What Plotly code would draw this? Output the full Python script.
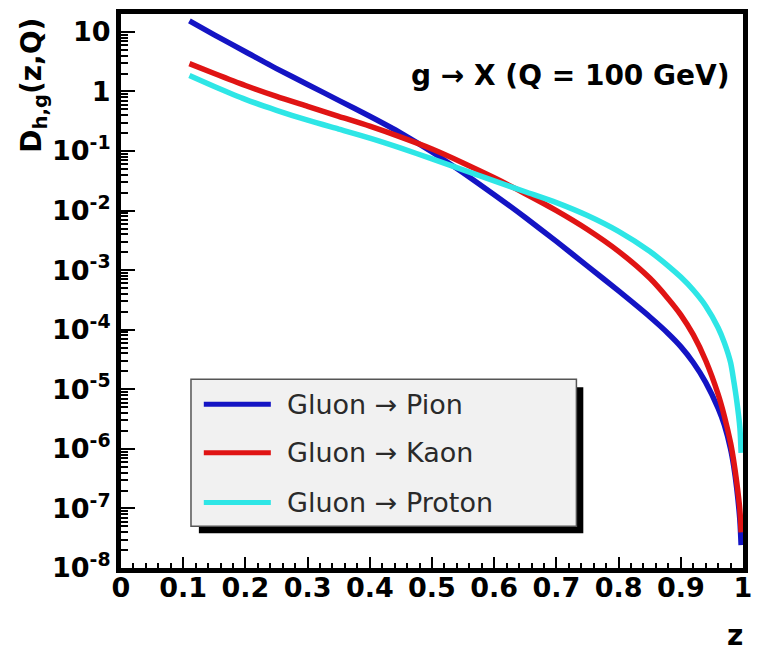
import plotly.graph_objects as go

# Gluon fragmentation functions D_{h,g}(z, Q) at Q = 100 GeV
z = [0.11, 0.15, 0.20, 0.25, 0.30, 0.35, 0.40, 0.45, 0.50, 0.55, 0.60, 0.65,
     0.70, 0.75, 0.80, 0.85, 0.88, 0.90, 0.92, 0.94, 0.96, 0.97, 0.98, 0.985,
     0.99, 0.995, 0.997]

d_pion = [15.3, 8.91, 4.64, 2.42, 1.31, 0.708, 0.383, 0.200, 0.0962, 0.0430,
          0.0185, 7.64e-3, 3.04e-3, 1.17e-3, 4.47e-4, 1.65e-4, 8.58e-5, 5.21e-5,
          2.82e-5, 1.31e-5, 4.82e-6, 2.51e-6, 1.00e-6, 5.21e-7, 2.15e-7, 6.31e-8,
          2.42e-8]

d_kaon = [2.93, 2.00, 1.26, 0.826, 0.562, 0.383, 0.261, 0.171, 0.108, 0.0631,
          0.0355, 0.0192, 0.0100, 4.82e-3, 2.07e-3, 7.36e-4, 3.29e-4, 1.78e-4,
          8.25e-5, 3.04e-5, 8.25e-6, 3.55e-6, 1.26e-6, 6.31e-7, 2.71e-7, 9.26e-8,
          3.98e-8]

d_proton = [1.85, 1.21, 0.736, 0.483, 0.329, 0.233, 0.165, 0.112, 0.0736, 0.0482,
            0.0316, 0.0207, 0.0136, 8.25e-3, 4.47e-3, 2.07e-3, 1.17e-3, 7.64e-4,
            4.64e-4, 2.51e-4, 1.08e-4, 6.07e-5, 2.82e-5, 1.41e-5, 6.31e-6, 2.24e-6,
            8.58e-7]

series_names = ["Gluon \u2192 Pion", "Gluon \u2192 Kaon", "Gluon \u2192 Proton"]
series_values = [d_pion, d_kaon, d_proton]
series_colors = ["#1414c4", "#e01414", "#2ee6e6"]

y_tick_exponents = [1, 0, -1, -2, -3, -4, -5, -6, -7, -8]
y_tick_vals = [10.0 ** e for e in y_tick_exponents]
y_tick_text = ["10" if e == 1 else "1" if e == 0 else f"10<sup>{e}</sup>"
               for e in y_tick_exponents]

# canvas geometry (pixels)
W, H = 761, 651
L, R, T, B = 121, 752, 10, 568

def px(x):
    return (x - L) / (R - L)

def py(y):
    return (B - y) / (B - T)

fig = go.Figure()
for name, vals, col in zip(series_names, series_values, series_colors):
    fig.add_trace(go.Scatter(
        x=z, y=vals, mode="lines", name=name, showlegend=False,
        line=dict(color=col, width=5.5, shape="spline", smoothing=0.7),
    ))

tickfont = dict(family="DejaVu Sans", size=27, color="black", weight="bold")

fig.update_layout(
    width=W, height=H,
    margin=dict(l=L, r=W - R, t=T, b=H - B, pad=0),
    paper_bgcolor="white", plot_bgcolor="white",
    xaxis=dict(
        range=[0, 1], dtick=0.1, tick0=0, showgrid=False, zeroline=False,
        showline=True, linecolor="black", linewidth=5, mirror=True,
        ticks="inside", ticklen=11, tickwidth=2, tickcolor="black",
        minor=dict(dtick=0.02, ticks="inside", ticklen=5, tickwidth=2,
                   tickcolor="black", showgrid=False),
        tickfont=tickfont, ticklabelstandoff=-8,
    ),
    yaxis=dict(
        type="log", range=[-8.0, 1.3], showgrid=False, zeroline=False,
        showline=True, linecolor="black", linewidth=5, mirror=True,
        tickvals=y_tick_vals, ticktext=y_tick_text,
        ticks="inside", ticklen=14, tickwidth=2, tickcolor="black",
        minor=dict(dtick="D1", ticks="inside", ticklen=7, tickwidth=2,
                   tickcolor="black", showgrid=False),
        tickfont=tickfont, ticklabelstandoff=0,
    ),
)

annos = []
# axis titles and plot label
annos.append(dict(text="D<sub>h,g</sub>(z,Q)", x=px(32), y=py(82), xref="paper",
                  yref="paper", textangle=-90, showarrow=False,
                  xanchor="center", yanchor="middle",
                  font=dict(family="DejaVu Sans", size=28, color="black", weight="bold")))
annos.append(dict(text="z", x=px(744), y=py(636), xref="paper", yref="paper",
                  showarrow=False, xanchor="center", yanchor="middle",
                  font=dict(family="DejaVu Sans", size=28, color="black", weight="bold")))
annos.append(dict(text="g \u2192 X (Q = 100 GeV)", x=px(577), y=py(72), xref="paper",
                  yref="paper", showarrow=False, xanchor="center", yanchor="middle",
                  font=dict(family="DejaVu Sans", size=28, color="black", weight="bold")))

# legend panel with drop shadow
shapes = [
    dict(type="rect", xref="paper", yref="paper", x0=px(200), x1=px(590),
         y0=py(386), y1=py(533), fillcolor="black", line=dict(width=0)),
    dict(type="rect", xref="paper", yref="paper", x0=px(192), x1=px(583),
         y0=py(378), y1=py(526), fillcolor="#f1f1f1",
         line=dict(color="#555555", width=1.5)),
]
legend_rows = [403, 452, 502]
for name, col, ry in zip(series_names, series_colors, legend_rows):
    shapes.append(dict(type="line", xref="paper", yref="paper", x0=px(205),
                       x1=px(273), y0=py(ry), y1=py(ry),
                       line=dict(color=col, width=5)))
    annos.append(dict(text=name, x=px(287), y=py(ry), xref="paper", yref="paper",
                      showarrow=False, xanchor="left", yanchor="middle",
                      font=dict(family="DejaVu Sans", size=27, color="#2a2a2a")))

fig.update_layout(annotations=annos, shapes=shapes)
fig.write_html("out.html")
